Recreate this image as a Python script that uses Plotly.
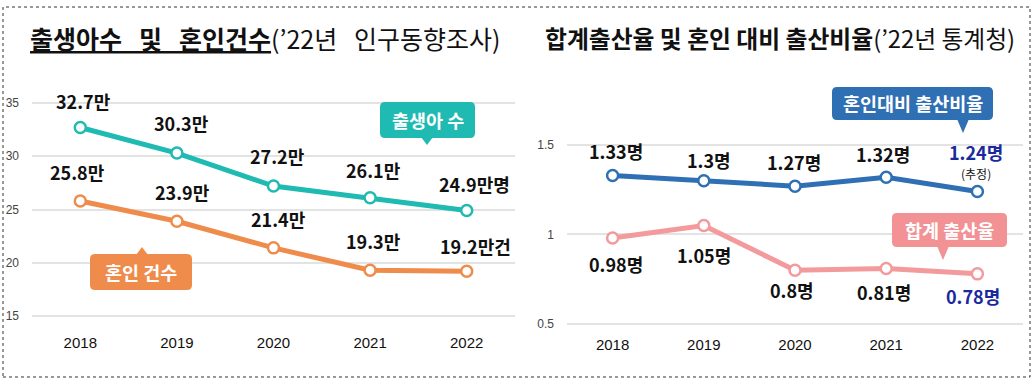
import plotly.graph_objects as go

# ---------------- data ----------------
years = ["2018", "2019", "2020", "2021", "2022"]
births = [32.7, 30.3, 27.2, 26.1, 24.9]          # 출생아 수 (만명)
marriages = [25.8, 23.9, 21.4, 19.3, 19.2]       # 혼인 건수 (만건)
ratio = [1.33, 1.30, 1.27, 1.32, 1.24]           # 혼인대비 출산비율
tfr = [0.98, 1.05, 0.80, 0.81, 0.78]             # 합계 출산율

births_labels = ["32.7만", "30.3만", "27.2만", "26.1만", "24.9만명"]
marriage_labels = ["25.8만", "23.9만", "21.4만", "19.3만", "19.2만건"]
ratio_labels = ["1.33명", "1.3명", "1.27명", "1.32명", "1.24명"]
tfr_labels = ["0.98명", "1.05명", "0.8명", "0.81명", "0.78명"]

left_ticks = [15, 20, 25, 30, 35]
right_ticks = [0.5, 1, 1.5]
right_tick_text = ["0.5", "1", "1.5"]

W, H = 1033, 381
FONT = "Noto Sans CJK KR"

TEAL = "#1fbab2"
ORANGE = "#ef8b4b"
BLUE = "#2f6fb3"
PINK = "#f39a9c"
PINK_BOX = "#f29294"
NAVY = "#1a2a9e"


def px(x):
    return x / W


def py(y):
    return 1 - y / H


fig = go.Figure()

marker_common = dict(size=11, color="white")

fig.add_trace(go.Scatter(x=years, y=births, mode="lines+markers", xaxis="x", yaxis="y",
                         line=dict(color=TEAL, width=5),
                         marker=dict(**marker_common, line=dict(color=TEAL, width=2.5)),
                         hoverinfo="skip"))
fig.add_trace(go.Scatter(x=years, y=marriages, mode="lines+markers", xaxis="x", yaxis="y",
                         line=dict(color=ORANGE, width=5),
                         marker=dict(**marker_common, line=dict(color=ORANGE, width=2.5)),
                         hoverinfo="skip"))
fig.add_trace(go.Scatter(x=years, y=ratio, mode="lines+markers", xaxis="x2", yaxis="y2",
                         line=dict(color=BLUE, width=5),
                         marker=dict(**marker_common, line=dict(color=BLUE, width=2.5)),
                         hoverinfo="skip"))
fig.add_trace(go.Scatter(x=years, y=tfr, mode="lines+markers", xaxis="x2", yaxis="y2",
                         line=dict(color=PINK, width=5),
                         marker=dict(**marker_common, line=dict(color=PINK, width=2.5)),
                         hoverinfo="skip"))

annotations = []
label_font = dict(family=FONT, size=18, color="#111111")

# left panel labels (x given as category index)
b_dx = [3, 5, 4, 3, 8]
b_dy = [27, 30, 30, 28, 27]
for i, (v, t) in enumerate(zip(births, births_labels)):
    annotations.append(dict(x=i, y=v, xref="x", yref="y", text="<b>%s</b>" % t, showarrow=False,
                            xshift=b_dx[i], yshift=b_dy[i], font=label_font))
m_dx = [-3, 6, 5, 3, 9]
m_dy = [29, 29, 29, 29, 25]
for i, (v, t) in enumerate(zip(marriages, marriage_labels)):
    annotations.append(dict(x=i, y=v, xref="x", yref="y", text="<b>%s</b>" % t, showarrow=False,
                            xshift=m_dx[i], yshift=m_dy[i], font=label_font))

# right panel labels
r_dx = [3, 5, -1, -3, -1]
r_dy = [24, 21, 24, 23, 40]
for i, (v, t) in enumerate(zip(ratio, ratio_labels)):
    col = NAVY if i == len(years) - 1 else "#111111"
    annotations.append(dict(x=i, y=v, xref="x2", yref="y2", text="<b>%s</b>" % t, showarrow=False,
                            xshift=r_dx[i], yshift=r_dy[i], font=dict(family=FONT, size=18, color=col)))
annotations.append(dict(x=len(years) - 1, y=ratio[-1], xref="x2", yref="y2", text="(추정)", showarrow=False,
                        xshift=-1, yshift=18, font=dict(family=FONT, size=12, color="#111111")))
t_dx = [3, 0, -3, -2, -4]
t_dy = [-26, -29, -20, -23, -22]
for i, (v, t) in enumerate(zip(tfr, tfr_labels)):
    col = NAVY if i == len(years) - 1 else "#111111"
    annotations.append(dict(x=i, y=v, xref="x2", yref="y2", text="<b>%s</b>" % t, showarrow=False,
                            xshift=t_dx[i], yshift=t_dy[i], font=dict(family=FONT, size=18, color=col)))

# titles
SP = "&nbsp;&nbsp;&nbsp;"
annotations.append(dict(x=px(28), y=py(38), xref="paper", yref="paper", xanchor="left", yanchor="middle",
                        showarrow=False,
                        text="<b><u>출생아수" + SP + "및" + SP + "혼인건수</u></b>(’22년" + SP + "인구동향조사)",
                        font=dict(family=FONT, size=25, color="#111111")))
annotations.append(dict(x=px(543), y=py(38), xref="paper", yref="paper", xanchor="left", yanchor="middle",
                        showarrow=False,
                        text="<b>합계출산율 및 혼인 대비 출산비율</b>(’22년 통계청)",
                        font=dict(family=FONT, size=23.8, color="#111111")))

shapes = []


def callout(x0, y0, x1, y1, tipx, tipy, color, text, r=5):
    # rounded rectangle in pixel coords -> paper path
    p = []
    p.append("M %f,%f" % (px(x0 + r), py(y0)))
    p.append("L %f,%f" % (px(x1 - r), py(y0)))
    p.append("Q %f,%f %f,%f" % (px(x1), py(y0), px(x1), py(y0 + r)))
    p.append("L %f,%f" % (px(x1), py(y1 - r)))
    p.append("Q %f,%f %f,%f" % (px(x1), py(y1), px(x1 - r), py(y1)))
    p.append("L %f,%f" % (px(x0 + r), py(y1)))
    p.append("Q %f,%f %f,%f" % (px(x0), py(y1), px(x0), py(y1 - r)))
    p.append("L %f,%f" % (px(x0), py(y0 + r)))
    p.append("Q %f,%f %f,%f" % (px(x0), py(y0), px(x0 + r), py(y0)))
    p.append("Z")
    shapes.append(dict(type="path", xref="paper", yref="paper", path=" ".join(p),
                       fillcolor=color, line=dict(width=0), layer="above"))
    # pointer triangle
    if tipy > y1:
        base = y1 - 1
    else:
        base = y0 + 1
    tri = "M %f,%f L %f,%f L %f,%f Z" % (px(tipx - 6), py(base), px(tipx + 6), py(base), px(tipx), py(tipy))
    shapes.append(dict(type="path", xref="paper", yref="paper", path=tri,
                       fillcolor=color, line=dict(width=0), layer="above"))
    annotations.append(dict(x=px((x0 + x1) / 2), y=py((y0 + y1) / 2), xref="paper", yref="paper",
                            text="<b>%s</b>" % text, showarrow=False, xanchor="center", yanchor="middle",
                            font=dict(family=FONT, size=18.5, color="white")))


callout(380, 102, 475, 138, 427, 145, TEAL, "출생아 수")
callout(90, 254, 192, 290, 142, 247, ORANGE, "혼인 건수")
callout(832, 87, 993, 120, 963, 133, BLUE, "혼인대비 출산비율")
callout(892, 213, 1007, 247, 943, 260, PINK_BOX, "합계 출산율")

# dotted outer frame
shapes.append(dict(type="rect", xref="paper", yref="paper", x0=px(3), x1=px(1030), y0=py(377), y1=py(7),
                   line=dict(color="#333333", width=1, dash="dot"), fillcolor="rgba(0,0,0,0)", layer="below"))

axis_common = dict(showline=False, zeroline=False, fixedrange=True)

fig.update_layout(
    width=W, height=H,
    margin=dict(l=0, r=0, t=0, b=0),
    paper_bgcolor="white", plot_bgcolor="white",
    showlegend=False,
    xaxis=dict(domain=[px(32), px(515)], range=[-0.5, 4.5], type="category", showgrid=False,
               tickfont=dict(family="Liberation Sans", size=15, color="#111111"), ticks="",
               ticklabelstandoff=2, anchor="y", **axis_common),
    yaxis=dict(domain=[py(330), py(80)], range=[13.69, 37.16], tickvals=left_ticks,
               showgrid=True, gridcolor="#e3e3e3", gridwidth=1.5,
               tickfont=dict(family="Liberation Sans", size=12, color="#444444"), ticks="",
               ticklabelstandoff=12, anchor="x", **axis_common),
    xaxis2=dict(domain=[px(567), px(1023)], range=[-0.5, 4.5], type="category", showgrid=False,
                tickfont=dict(family="Liberation Sans", size=15, color="#111111"), ticks="",
                ticklabelstandoff=1, anchor="y2", **axis_common),
    yaxis2=dict(domain=[py(333), py(80)], range=[0.4497, 1.863], tickvals=right_ticks, ticktext=right_tick_text,
                showgrid=True, gridcolor="#e3e3e3", gridwidth=1.5,
                tickfont=dict(family="Liberation Sans", size=12, color="#444444"), ticks="",
                ticklabelstandoff=12, anchor="x2", **axis_common),
    annotations=annotations,
    shapes=shapes,
)

fig.write_html("out.html", config={"displayModeBar": False},
               post_script="document.body.style.margin='0';document.body.style.overflow='hidden';")
